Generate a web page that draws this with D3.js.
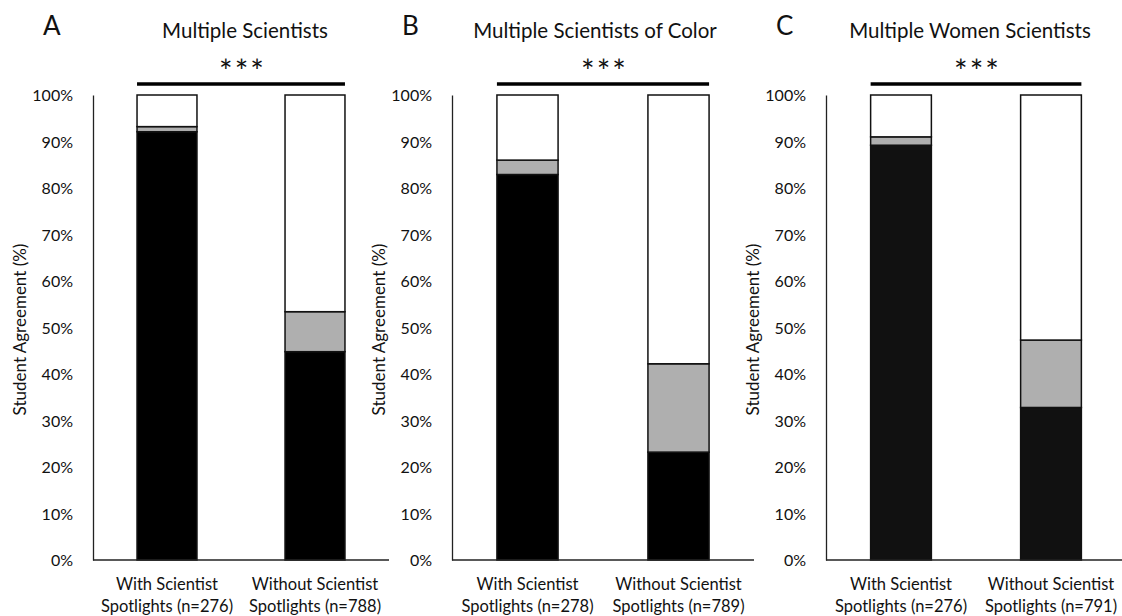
<!DOCTYPE html>
<html>
<head>
<meta charset="utf-8">
<script src="https://cdn.jsdelivr.net/npm/d3@7/dist/d3.min.js"></script>
<style>
  html, body { margin: 0; padding: 0; background: #fff; }
  svg { display: block; }
  text { font-family: Lato, "Open Sans", sans-serif; fill: #111; }
</style>
</head>
<body>
<svg id="chart" width="1122" height="616"></svg>
<script>
// Panel identifiers and titles
const panelLetters = ["A", "B", "C"];
const panelTitles = ["Multiple Scientists", "Multiple Scientists of Color", "Multiple Women Scientists"];

// Groups compared in each panel
const groupNames = ["With Scientist Spotlights", "Without Scientist Spotlights"];
const sampleSizes = [[276, 788], [278, 789], [276, 791]];

// Percent of students who agree (black) / are neutral (grey); the remainder disagree (white)
const agreePct = [[92.1, 44.8], [82.9, 23.2], [89.2, 32.8]];
const neutralPct = [[1.1, 8.6], [3.1, 19.0], [1.8, 14.5]];

// Significance marker per panel
const significance = ["***", "***", "***"];

// Y axis ticks (%)
const yTicks = [0, 10, 20, 30, 40, 50, 60, 70, 80, 90, 100];

// ---- layout ----
const svg = d3.select("#chart");
const plotTop = 95, plotBottom = 560;
const panelX = [93, 452, 826];
const panelW = [296, 302, 300];
const titleShift = [4, -8, -6];
const agreeFill = ["#000", "#000", "#111"];
const neutralFill = "#afafaf";
const disagreeFill = "#fff";

const y = d3.scaleLinear().domain([0, 100]).range([plotBottom, plotTop]);

panelLetters.forEach((letter, p) => {
  const g = svg.append("g").attr("transform", `translate(${panelX[p]},0)`);
  const w = panelW[p];

  const rows = groupNames.map((name, i) => ({
    group: name,
    agree: agreePct[p][i],
    neutral: neutralPct[p][i],
    disagree: 100 - agreePct[p][i] - neutralPct[p][i]
  }));

  const x = d3.scaleBand()
    .domain(groupNames)
    .range([0, w])
    .paddingInner(0.595)
    .paddingOuter(0.2975);

  const stack = d3.stack().keys(["agree", "neutral", "disagree"]);
  const layers = stack(rows);
  const fills = { agree: agreeFill[p], neutral: neutralFill, disagree: disagreeFill };

  // Y axis (line and percent labels, no tick marks)
  const yAxis = d3.axisLeft(y).tickValues(yTicks).tickFormat(d => d + "%").tickSize(0).tickPadding(20);
  const ya = g.append("g").call(yAxis);
  ya.select(".domain").attr("stroke", "#222").attr("stroke-width", 1.3);
  ya.selectAll("text")
    .attr("font-family", "Lato, 'Open Sans', sans-serif")
    .attr("font-size", 16)
    .attr("fill", "#111")
    .attr("dy", "0.36em");

  // Stacked bars
  layers.forEach(layer => {
    g.append("g").selectAll("rect")
      .data(layer)
      .join("rect")
      .attr("x", d => x(d.data.group))
      .attr("width", x.bandwidth())
      .attr("y", d => y(d[1]))
      .attr("height", d => y(d[0]) - y(d[1]))
      .attr("fill", fills[layer.key])
      .attr("stroke", "#111")
      .attr("stroke-width", 1.5);
  });

  // Baseline
  g.append("line")
    .attr("x1", 0).attr("x2", w)
    .attr("y1", y(0)).attr("y2", y(0))
    .attr("stroke", "#222").attr("stroke-width", 1.3);

  // X category labels (two lines each)
  groupNames.forEach((name, i) => {
    const cx = x(name) + x.bandwidth() / 2;
    const t = g.append("text")
      .attr("text-anchor", "middle")
      .attr("font-size", 16.5);
    t.append("tspan").attr("x", cx).attr("y", 590).text(name.replace(" Spotlights", ""));
    t.append("tspan").attr("x", cx).attr("y", 612).text(`Spotlights (n=${sampleSizes[p][i]})`);
  });

  // Y axis title
  g.append("text")
    .attr("transform", `translate(${-73},${(plotTop + plotBottom) / 2 + 2}) rotate(-90)`)
    .attr("text-anchor", "middle")
    .attr("dy", "0.35em")
    .attr("font-size", 17)
    .text("Student Agreement (%)");

  // Significance bracket
  const x1 = x(groupNames[0]);
  const x2 = x(groupNames[1]) + x.bandwidth();
  g.append("line")
    .attr("x1", x1).attr("x2", x2)
    .attr("y1", 84).attr("y2", 84)
    .attr("stroke", "#000").attr("stroke-width", 3.5);
  g.append("text")
    .attr("x", (x1 + x2) / 2)
    .attr("y", 83)
    .attr("dx", 1.5)
    .attr("text-anchor", "middle")
    .attr("font-family", "'DejaVu Sans', sans-serif")
    .attr("font-size", 32)
    .attr("letter-spacing", 2)
    .text(significance[p]);

  // Title
  g.append("text")
    .attr("x", w / 2 + titleShift[p])
    .attr("y", 38)
    .attr("text-anchor", "middle")
    .attr("font-size", 20.5)
    .text(panelTitles[p]);

  // Panel letter
  g.append("text")
    .attr("x", -50)
    .attr("y", 35)
    .attr("font-size", 26)
    .text(letter);
});
</script>
</body>
</html>
